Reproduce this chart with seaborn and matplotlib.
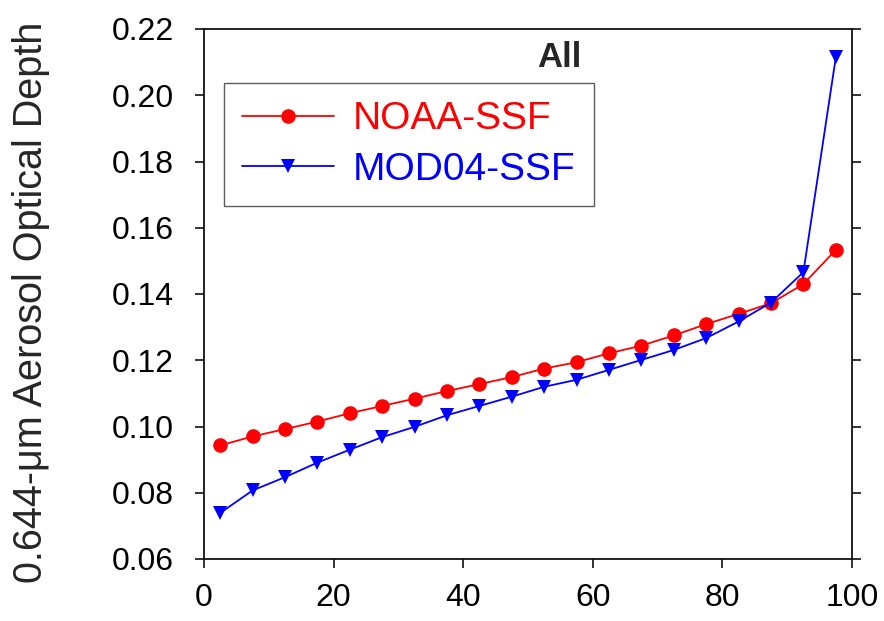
import matplotlib
matplotlib.use("Agg")
import matplotlib.pyplot as plt
from matplotlib.ticker import FormatStrFormatter
from matplotlib.lines import Line2D
import seaborn as sns
import pandas as pd

# Percentile-bin centres and mean 0.644-um aerosol optical depth per bin
bin_centres = [2.5, 7.5, 12.5, 17.5, 22.5, 27.5, 32.5, 37.5, 42.5, 47.5,
               52.5, 57.5, 62.5, 67.5, 72.5, 77.5, 82.5, 87.5, 92.5, 97.5]
noaa_ssf = [0.0943, 0.0970, 0.0992, 0.1015, 0.1040, 0.1062, 0.1084, 0.1107,
            0.1128, 0.1149, 0.1175, 0.1194, 0.1221, 0.1244, 0.1275, 0.1309,
            0.1340, 0.1372, 0.1430, 0.1533]
mod04_ssf = [0.0739, 0.0807, 0.0847, 0.0891, 0.0930, 0.0968, 0.0999, 0.1034,
             0.1062, 0.1090, 0.1120, 0.1141, 0.1171, 0.1201, 0.1231, 0.1267,
             0.1317, 0.1374, 0.1466, 0.2114]
series_names = ["NOAA-SSF", "MOD04-SSF"]
series_colors = ["#ff0000", "#0000ff"]
series_markers = ["o", "v"]
y_ticks = [0.06, 0.08, 0.10, 0.12, 0.14, 0.16, 0.18, 0.20, 0.22]
x_ticks = [0, 20, 40, 60, 80, 100]
panel_title = "All"
y_label = "0.644-\u03bcm Aerosol Optical Depth"

sns.set_theme(style="ticks")
plt.rcParams["font.family"] = ["Liberation Sans", "DejaVu Sans"]

df = pd.DataFrame({
    "x": bin_centres * 2,
    "aod": noaa_ssf + mod04_ssf,
    "series": [series_names[0]] * len(noaa_ssf) + [series_names[1]] * len(mod04_ssf),
})

fig = plt.figure(figsize=(8.84, 6.21), dpi=100)
ax = fig.add_axes([204 / 884, 1 - 559 / 621, 648 / 884, 530 / 621])

MS = 10.5
LW = 1.3
for name, color, marker in zip(series_names, series_colors, series_markers):
    sub = df[df["series"] == name]
    sns.lineplot(data=sub, x="x", y="aod", ax=ax, color=color, marker=marker,
                 markersize=MS, markeredgewidth=0, linewidth=LW,
                 legend=False, estimator=None, sort=False)

ax.set_xlim(0, 100)
ax.set_ylim(0.06, 0.22)
ax.set_xticks(x_ticks)
ax.set_yticks(y_ticks)
ax.yaxis.set_major_formatter(FormatStrFormatter("%.2f"))
ax.set_xlabel("")
ax.set_ylabel(y_label, fontsize=28.5)
ax.yaxis.set_label_coords(-0.238, 0.484)

for side in ["left", "right", "top", "bottom"]:
    ax.spines[side].set_visible(True)
    ax.spines[side].set_color("#111111")
    ax.spines[side].set_linewidth(1.3)

ax.tick_params(axis="both", which="major", direction="out", length=6.5,
               width=1.2, color="#111111", labelsize=23, labelcolor="black")
ax.tick_params(axis="y", pad=15, right=True, labelright=False)
ax.tick_params(axis="x", pad=11, top=False)

ax.text(0.548, 0.947, panel_title, transform=ax.transAxes, ha="center",
        va="center", fontsize=25, fontweight="bold")

handles = [Line2D([], [], color=c, marker=m, markersize=MS, markeredgewidth=0,
                  linewidth=LW) for c, m in zip(series_colors, series_markers)]
leg = ax.legend(handles, series_names, loc="upper left",
                bbox_to_anchor=(20 / 648, 1 - 54 / 530), borderaxespad=0,
                fontsize=28, handlelength=2.35, handletextpad=0.5,
                labelspacing=0.38, borderpad=0.47, fancybox=False,
                frameon=True, labelcolor=series_colors)
leg.get_frame().set_edgecolor("#333333")
leg.get_frame().set_linewidth(1.0)

fig.savefig("out.png", dpi=100, facecolor="white")
